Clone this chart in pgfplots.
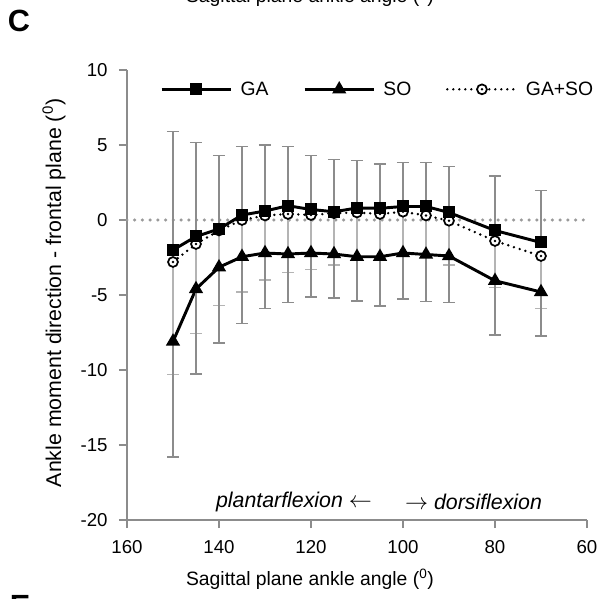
\documentclass[border=0pt]{standalone}
\usepackage{fontspec}
\setmainfont{Liberation Sans}
\usepackage{pgfplots}
\pgfplotsset{compat=1.18}
\usepackage{pgfplotstable}

\definecolor{barDark}{HTML}{8C8C8C}
\definecolor{barLight}{HTML}{B4B4B4}
\definecolor{axisGray}{HTML}{8C8C8C}
\definecolor{zeroGray}{HTML}{9A9A9A}

% open circle with a dot in the middle
\pgfdeclareplotmark{ringdot}{%
  \pgfpathcircle{\pgfpointorigin}{\pgfplotmarksize}%
  \pgfusepathqfillstroke
  \begin{pgfscope}%
    \pgfsetfillcolor{black}%
    \pgfpathcircle{\pgfpointorigin}{0.28\pgfplotmarksize}%
    \pgfusepathqfill
  \end{pgfscope}}

% angle, mean and error (one-sided) of each series
\pgfplotstableread{
ang  ga     gae    so     soe    gaso   gasoe
150  -2.00  7.90   -8.10  7.70   -2.80  7.50
145  -1.10  6.25   -4.60  5.67   -1.60  5.95
140  -0.60  4.90   -3.15  5.05   -0.70  5.00
135   0.33  4.57   -2.45  4.45    0.00  4.80
130   0.60  4.40   -2.20  3.70    0.30  4.30
125   0.95  3.95   -2.27  3.23    0.40  3.87
120   0.70  3.60   -2.20  2.93    0.33  3.60
115   0.55  3.50   -2.27  2.93    0.45  3.45
110   0.80  3.15   -2.45  2.95    0.50  3.10
105   0.78  2.95   -2.45  3.28    0.40  2.90
100   0.90  2.92   -2.20  3.07    0.55  3.00
95    0.90  2.95   -2.30  3.15    0.30  2.80
90    0.50  3.05   -2.40  3.10   -0.05  2.95
80   -0.70  3.63   -4.05  3.62   -1.40  3.10
70   -1.50  3.45   -4.80  2.93   -2.40  3.50
}\angdata

\tikzset{
  gasoLine/.style={black, line width=2pt, dash pattern=on 0pt off 4.5pt, line cap=round,
    mark=ringdot, mark size=3.7pt, mark options={solid, fill=white, line width=1.3pt}},
}

\begin{document}
\begin{tikzpicture}
\useasboundingbox (-95.25pt,-59.25pt) rectangle (357pt,390pt);
\begin{axis}[
  at={(0pt,0pt)}, anchor=south west,
  scale only axis, width=345pt, height=337.5pt,
  x dir=reverse, xmin=60, xmax=160, ymin=-20, ymax=10,
  xtick={60,80,100,120,140,160}, ytick={-20,-15,-10,-5,0,5,10},
  axis x line*=bottom, axis y line*=left,
  axis line style={draw=axisGray, line width=1.3pt},
  tick align=outside, major tick length=6pt,
  tick style={draw=axisGray, line width=1.3pt},
  ticklabel style={font=\fontsize{14}{16}\selectfont},
  xticklabel style={yshift=-6pt},
  yticklabel style={xshift=-5pt},
  /pgf/number format/assume math mode=true,
  clip=false,
  legend columns=3,
  legend style={at={(0.0717,0.957)}, anchor=west, draw=none, fill=none,
    inner sep=0pt, font=\fontsize{14.5}{16}\selectfont,
    /tikz/every odd column/.append style={column sep=4pt},
    /tikz/every even column/.append style={column sep=24pt}},
  legend image code/.code={\draw[mark repeat=2, mark phase=2, #1]
    plot coordinates {(0pt,0pt) (26pt,0pt) (52pt,0pt)};},
]
% zero reference
\draw[zeroGray, line width=2.6pt, dash pattern=on 0pt off 5.8pt, line cap=round]
  (axis cs:160,0) -- (axis cs:60,0);

% GA+SO first so that its light bars lie underneath
\addplot[gasoLine, forget plot,
  error bars/.cd, y dir=minus, y explicit,
  error bar style={draw=barLight, line width=0.8pt, solid},
  error mark options={draw=barLight, line width=0.8pt, mark size=4.5pt, rotate=90}]
  table[x=ang, y=gaso, y error=gasoe] {\angdata};

\addplot[black, line width=2.2pt, mark=square*, mark size=3.4pt, mark options={solid},
  error bars/.cd, y dir=plus, y explicit,
  error bar style={draw=barDark, line width=1pt},
  error mark options={draw=barDark, line width=1pt, mark size=4.5pt, rotate=90}]
  table[x=ang, y=ga, y error=gae] {\angdata};
\addlegendentry{GA}

\addplot[black, line width=2.2pt, mark=triangle*, mark size=4pt, mark options={solid},
  error bars/.cd, y dir=minus, y explicit,
  error bar style={draw=barDark, line width=1pt},
  error mark options={draw=barDark, line width=1pt, mark size=4.5pt, rotate=90}]
  table[x=ang, y=so, y error=soe] {\angdata};
\addlegendentry{SO}

\addlegendimage{gasoLine}
\addlegendentry{GA+SO}

\node[anchor=east, inner sep=0pt, font=\itshape\fontsize{16}{18}\selectfont]
  at (axis cs:106.7,-18.8) {plantarflexion $\leftarrow$};
\node[anchor=west, inner sep=0pt, font=\itshape\fontsize{16}{18}\selectfont]
  at (axis cs:99.6,-18.8) {$\rightarrow$ dorsiflexion};
\end{axis}

% labels, panel letters and the caption cut off at the top
\node[font=\fontsize{14.5}{16}\selectfont] at (137.25pt,-44.25pt)
  {Sagittal plane ankle angle (\textsuperscript{0})};
\node[rotate=90, font=\fontsize{16}{18}\selectfont] at (-54.75pt,170.25pt)
  {Ankle moment direction - frontal plane (\textsuperscript{0})};
\node[anchor=base, font=\fontsize{14.5}{16}\selectfont] at (137.25pt,387.75pt)
  {Sagittal plane ankle angle (\textsuperscript{0})};
\node[font=\bfseries\fontsize{23}{26}\selectfont] at (-81pt,374pt) {C};
\node[anchor=north, inner sep=0pt, font=\bfseries\fontsize{23}{26}\selectfont]
  at (-80.25pt,-56.25pt) {E};
\end{tikzpicture}
\end{document}
